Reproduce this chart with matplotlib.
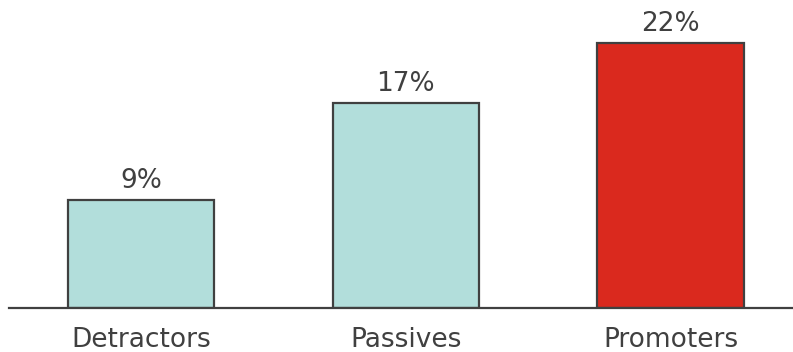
import matplotlib
matplotlib.use('Agg')
import matplotlib.pyplot as plt

categories = ['Detractors', 'Passives', 'Promoters']
shares = [9, 17, 22]
bar_colors = ['#b2dedb', '#b2dedb', '#da291e']

TEXT_COLOUR = '#404040'

fig = plt.figure(figsize=(7.93, 3.52), dpi=100)
ax = fig.add_axes([0.0113, 0.125, 0.9887, 0.875])

x = range(len(categories))
bars = ax.bar(x, shares, width=0.553, color=bar_colors,
              edgecolor=TEXT_COLOUR, linewidth=1.6, zorder=2)

# value labels above each bar
for bar, val in zip(bars, shares):
    ax.text(bar.get_x() + bar.get_width() / 2, val + 0.5, f'{val}%',
            ha='center', va='bottom', fontsize=19, color=TEXT_COLOUR)

ax.set_xlim(-0.498, 2.462)
ax.set_ylim(0, 25.6)
ax.set_xticks(list(x))
ax.set_xticklabels(categories, fontsize=19, color=TEXT_COLOUR)
ax.tick_params(axis='x', length=0, pad=14)
ax.set_yticks([])

for side in ['top', 'right', 'left']:
    ax.spines[side].set_visible(False)
ax.spines['bottom'].set_color(TEXT_COLOUR)
ax.spines['bottom'].set_linewidth(1.6)
ax.spines['bottom'].set_zorder(3)

fig.savefig('out.png', dpi=100)
